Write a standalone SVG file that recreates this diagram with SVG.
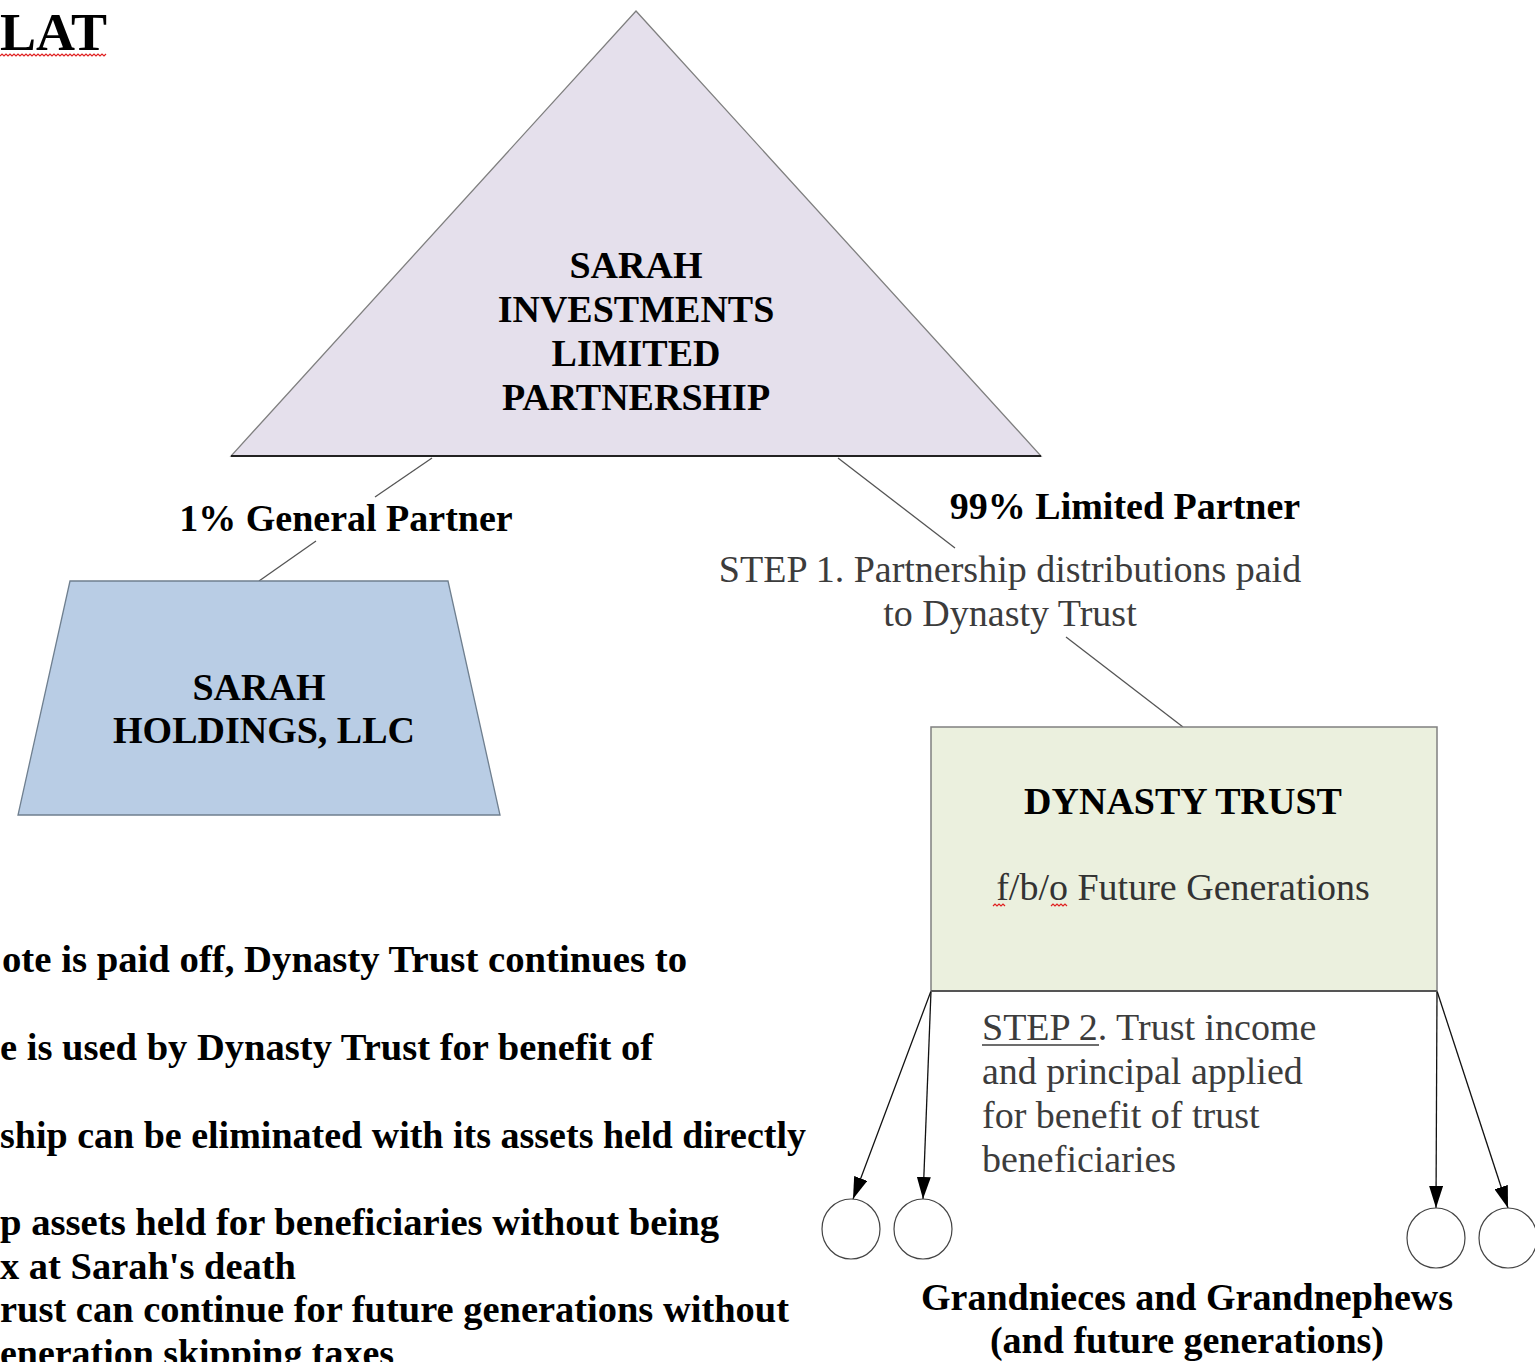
<svg xmlns="http://www.w3.org/2000/svg" width="1535" height="1362" viewBox="0 0 1535 1362">
  <defs>
    <marker id="arrow" viewBox="0 0 22 14" refX="22" refY="7" markerWidth="22" markerHeight="14" markerUnits="userSpaceOnUse" orient="auto">
      <path d="M0,0 L22,7 L0,14 Z" fill="#000"/>
    </marker>
  </defs>
  <style>
    .b { font-family: "Liberation Serif", "Times New Roman", serif; font-weight: bold; font-size: 38px; fill: #000; }
    .r { font-family: "Liberation Serif", "Times New Roman", serif; font-size: 38px; fill: #3c3c3c; }
    .mid { text-anchor: middle; }
    .conn { stroke: #555; stroke-width: 1.3; fill: none; }
    .arr { stroke: #111; stroke-width: 1.3; fill: none; }
    .squig { stroke: #e02020; stroke-width: 1.2; fill: none; }
    .kid { fill: #fff; stroke: #444; stroke-width: 1.2; }
  </style>

  <rect width="1535" height="1362" fill="#fff"/>

  <!-- heading -->
  <g id="heading">
    <text x="0" y="50" class="b" style="font-size:53px" textLength="107" lengthAdjust="spacingAndGlyphs">LAT</text>
    <path class="squig" d="M0,56 l2,-2 l2,2 l2,-2 l2,2 l2,-2 l2,2 l2,-2 l2,2 l2,-2 l2,2 l2,-2 l2,2 l2,-2 l2,2 l2,-2 l2,2 l2,-2 l2,2 l2,-2 l2,2 l2,-2 l2,2 l2,-2 l2,2 l2,-2 l2,2 l2,-2 l2,2 l2,-2 l2,2 l2,-2 l2,2 l2,-2 l2,2 l2,-2 l2,2 l2,-2 l2,2 l2,-2 l2,2 l2,-2 l2,2 l2,-2 l2,2 l2,-2 l2,2 l2,-2 l2,2 l2,-2 l2,2 l2,-2 l2,2 l2,-2"/>
  </g>

  <!-- connectors -->
  <g id="connectors">
    <line class="conn" x1="432" y1="458" x2="375" y2="497"/>
    <line class="conn" x1="316" y1="541" x2="259" y2="581"/>
    <line class="conn" x1="838" y1="458" x2="955" y2="548"/>
    <line class="conn" x1="1066" y1="637" x2="1183" y2="727"/>
    <line class="arr" x1="931" y1="991" x2="853" y2="1199" marker-end="url(#arrow)"/>
    <line class="arr" x1="931" y1="991" x2="923" y2="1199" marker-end="url(#arrow)"/>
    <line class="arr" x1="1437" y1="991" x2="1436" y2="1208" marker-end="url(#arrow)"/>
    <line class="arr" x1="1437" y1="991" x2="1508" y2="1208" marker-end="url(#arrow)"/>
  </g>

  <!-- partnership -->
  <g id="partnership">
    <polygon points="636,11 1041,456 231,456" fill="#e5e0ec" stroke="#7f7f7f" stroke-width="1.3"/>
    <line x1="231" y1="456" x2="1041" y2="456" stroke="#222" stroke-width="2"/>
    <text class="b mid" x="636" y="278">SARAH</text>
    <text class="b mid" x="636" y="322">INVESTMENTS</text>
    <text class="b mid" x="636" y="366">LIMITED</text>
    <text class="b mid" x="636" y="410">PARTNERSHIP</text>
  </g>

  <!-- general partner label -->
  <g id="label-gp">
    <text class="b mid" x="346" y="531">1% General Partner</text>
  </g>

  <!-- limited partner label -->
  <g id="label-lp">
    <text class="b mid" x="1125" y="519">99% Limited Partner</text>
    <text class="r mid" x="1010" y="582">STEP 1. Partnership distributions paid</text>
    <text class="r mid" x="1010" y="626">to Dynasty Trust</text>
  </g>

  <!-- holdings -->
  <g id="holdings">
    <polygon points="70,581 448,581 500,815 18,815" fill="#b9cde5" stroke="#6f7f8f" stroke-width="1.3"/>
    <text class="b mid" x="259" y="700">SARAH</text>
    <text class="b mid" x="264" y="743">HOLDINGS, LLC</text>
  </g>

  <!-- dynasty trust -->
  <g id="dynasty-trust">
    <rect x="931" y="727" width="506" height="264" fill="#ebf0de" stroke="#808080" stroke-width="1.5"/>
    <line x1="931" y1="991" x2="1437" y2="991" stroke="#555" stroke-width="2"/>
    <text class="b mid" x="1183" y="814">DYNASTY TRUST</text>
    <text class="r mid" x="1183" y="900" style="fill:#333">f/b/o Future Generations</text>
    <path class="squig" d="M993,906 l2,-2 l2,2 l2,-2 l2,2 l2,-2 l2,2"/>
    <path class="squig" d="M1051,906 l2,-2 l2,2 l2,-2 l2,2 l2,-2 l2,2 l2,-2 l2,2"/>
  </g>

  <!-- step 2 note -->
  <g id="label-step2">
    <text class="r" x="982" y="1040">STEP 2. Trust income</text>
    <line x1="982" y1="1045" x2="1099" y2="1045" stroke="#3c3c3c" stroke-width="1.6"/>
    <text class="r" x="982" y="1084">and principal applied</text>
    <text class="r" x="982" y="1128">for benefit of trust</text>
    <text class="r" x="982" y="1172">beneficiaries</text>
  </g>

  <!-- beneficiaries -->
  <g id="beneficiary-1"><ellipse class="kid" cx="851" cy="1229" rx="29" ry="30"/></g>
  <g id="beneficiary-2"><ellipse class="kid" cx="923" cy="1229" rx="29" ry="30"/></g>
  <g id="beneficiary-3"><ellipse class="kid" cx="1436" cy="1238" rx="29" ry="30"/></g>
  <g id="beneficiary-4"><ellipse class="kid" cx="1508" cy="1238" rx="29" ry="30"/></g>

  <g id="label-beneficiaries">
    <text class="b mid" x="1187" y="1310">Grandnieces and Grandnephews</text>
    <text class="b mid" x="1187" y="1353">(and future generations)</text>
  </g>

  <!-- notes -->
  <g id="notes">
    <text class="b" x="2" y="972" textLength="685" lengthAdjust="spacingAndGlyphs">ote is paid off, Dynasty Trust continues to</text>
    <text class="b" x="0" y="1060" textLength="653" lengthAdjust="spacingAndGlyphs">e is used by Dynasty Trust for benefit of</text>
    <text class="b" x="0" y="1148" textLength="806" lengthAdjust="spacingAndGlyphs">ship can be eliminated with its assets held directly</text>
    <text class="b" x="0" y="1235" textLength="719" lengthAdjust="spacingAndGlyphs">p assets held for beneficiaries without being</text>
    <text class="b" x="0" y="1279" textLength="296" lengthAdjust="spacingAndGlyphs">x at Sarah's death</text>
    <text class="b" x="0" y="1322" textLength="789" lengthAdjust="spacingAndGlyphs">rust can continue for future generations without</text>
    <text class="b" x="0" y="1366" textLength="394" lengthAdjust="spacingAndGlyphs">eneration skipping taxes</text>
  </g>
</svg>
